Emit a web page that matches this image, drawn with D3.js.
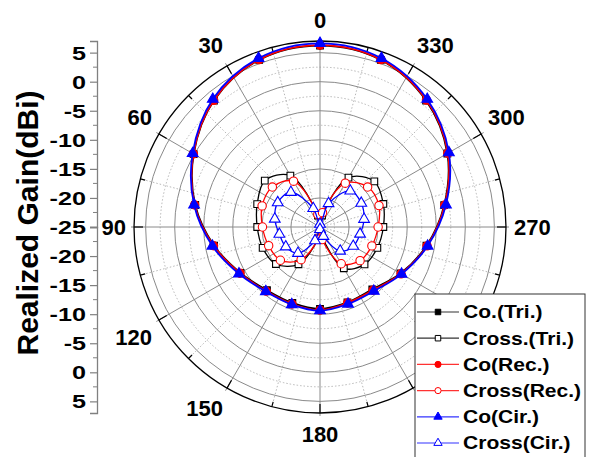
<!DOCTYPE html>
<html>
<head>
<meta charset="utf-8">
<script src="https://cdn.jsdelivr.net/npm/d3@7"></script>
<style>
  body { margin: 0; background: #fff; }
  text { font-family: "Liberation Sans", Arial, sans-serif; font-weight: bold; fill: #000; }
</style>
</head>
<body>
<svg id="chart" width="590" height="457"></svg>
<script>
// angles in degrees, counter-clockwise from the top
const coAngles = [0, 20, 40, 60, 80, 100, 120, 140, 160, 180, 200, 220, 240, 260, 280, 300, 320, 340];
const crossAngles = [0, 10, 30, 50, 70, 90, 110, 130, 150, 170, 180, 190, 210, 230, 250, 270, 290, 310, 330, 350];

// realized gain, dBi
const coTri = [6.2, 5.6, 3.4, 0.1, -3.2, -6.5, -9.2, -10.8, -11.1, -10.9, -11.2, -11.0, -9.0, -6.4, -3.3, 0.3, 3.4, 5.6];
const coRec = [6.3, 5.65, 3.45, 0.15, -3.1, -6.4, -9.1, -10.6, -10.9, -10.7, -11.1, -10.8, -8.9, -6.3, -3.2, 0.4, 3.5, 5.65];
const coCir = [6.6, 5.9, 3.7, 0.3, -3.0, -6.2, -8.9, -10.5, -10.8, -10.6, -10.9, -10.6, -8.8, -6.2, -3.0, 0.6, 3.7, 5.9];
const crossTri = [-25, -23, -14.8, -12.6, -13.5, -14.2, -14.5, -15.1, -17.6, -23, -25, -23.6, -16.8, -15.0, -14.5, -14.1, -13.4, -12.8, -15.2, -23];
const crossRec = [-25, -22.8, -15.9, -14.3, -14.4, -15.1, -15.6, -16.1, -18.5, -22.9, -25, -22.8, -17.7, -16.0, -15.5, -15.0, -14.2, -14.3, -16.3, -22.5];
const crossCir = [-24.5, -21.6, -17.2, -16.6, -17.1, -17.9, -18.2, -19.1, -22.5, -24.6, -23.3, -19.6, -18.4, -18.0, -17.3, -16.8, -16.9, -20.7];

const angleLabels = [0, 30, 60, 90, 120, 150, 180, 270, 300, 330];
const radialTicks = [-25, -20, -15, -10, -5, 0, 5];
const legendNames = ["Co.(Tri.)", "Cross.(Tri.)", "Co(Rec.)", "Cross(Rec.)", "Co(Cir.)", "Cross(Cir.)"];

const svg = d3.select("#chart");
const cx = 320, cy = 227, R = 186;

const r = d3.scaleLinear().domain([-25, 7]).range([0, R]).clamp(true);
const rad = a => -a * Math.PI / 180;
const px = (a, rr) => cx + rr * Math.sin(rad(a));
const py = (a, rr) => cy - rr * Math.cos(rad(a));

const plot = svg.append("g");

// dotted grid circles
d3.range(-22.5, 6, 5).forEach(v => {
  plot.append("circle").attr("cx", cx).attr("cy", cy).attr("r", r(v))
    .attr("fill", "none").attr("stroke", "#b8b8b8").attr("stroke-width", 1)
    .attr("stroke-dasharray", "1.5,2");
});
// dotted spokes
d3.range(15, 360, 30).forEach(a => {
  plot.append("line").attr("x1", cx).attr("y1", cy).attr("x2", px(a, R)).attr("y2", py(a, R))
    .attr("stroke", "#b8b8b8").attr("stroke-dasharray", "1.5,2");
});
// solid grid circles
radialTicks.slice(1).forEach(v => {
  plot.append("circle").attr("cx", cx).attr("cy", cy).attr("r", r(v))
    .attr("fill", "none").attr("stroke", "#8a8a8a").attr("stroke-width", 1);
});
// solid spokes
d3.range(0, 360, 30).forEach(a => {
  plot.append("line").attr("x1", cx).attr("y1", cy).attr("x2", px(a, R + 3)).attr("y2", py(a, R + 3))
    .attr("stroke", "#8a8a8a").attr("stroke-width", 1);
});
// outer circle and its ticks
plot.append("circle").attr("cx", cx).attr("cy", cy).attr("r", R)
  .attr("fill", "none").attr("stroke", "#000").attr("stroke-width", 1.3);
d3.range(0, 360, 15).forEach(a => {
  const len = a % 30 === 0 ? 9 : 5;
  plot.append("line").attr("x1", px(a, R - len)).attr("y1", py(a, R - len))
    .attr("x2", px(a, R)).attr("y2", py(a, R))
    .attr("stroke", "#000").attr("stroke-width", 1.2);
});

// angular labels, placed outside the ring like Origin does
plot.selectAll(".alab").data(angleLabels).join("text")
  .attr("class", "alab")
  .attr("x", a => px(a, 194))
  .attr("y", a => {
    const c = Math.cos(rad(a));
    return py(a, 194) + (c > 0.1 ? -13 : c < -0.1 ? 13 : 0);
  })
  .attr("text-anchor", a => {
    const s = Math.sin(rad(a));
    return s > 0.1 ? "start" : s < -0.1 ? "end" : "middle";
  })
  .attr("dominant-baseline", "central")
  .style("font-size", "22px")
  .text(a => a);

// left radial axis (two halves)
const yTop = d3.scaleLinear().domain([-25, 7]).range([cy, cy - R]);
const yBot = d3.scaleLinear().domain([-25, 7]).range([cy, cy + R]);
const axisX = 97;
const sx = 1.4;
function drawAxis(scale, values, minors) {
  const g = svg.append("g").attr("transform", `translate(${axisX},0)`);
  g.call(d3.axisLeft(scale).tickValues(values).tickSize(7).tickPadding(4).tickFormat(d => String(d)));
  g.selectAll(".minor").data(minors).join("line").attr("class", "minor")
    .attr("x1", -4).attr("x2", 0).attr("y1", d => scale(d)).attr("y2", d => scale(d))
    .attr("stroke", "#808080");
  g.select(".domain").attr("stroke", "#808080").attr("stroke-width", 1.3);
  g.selectAll(".tick line").attr("stroke", "#808080").attr("stroke-width", 1.2);
  g.selectAll(".tick text").style("font-size", "18px").style("font-family", "'Liberation Sans', Arial, sans-serif")
    .style("font-weight", "bold").attr("fill", "#000").attr("dy", "0.36em")
    .attr("x", -11 / sx).attr("transform", `scale(${sx},1)`);
  return g;
}
drawAxis(yTop, radialTicks, [-22.5, -17.5, -12.5, -7.5, -2.5, 2.5]);
drawAxis(yBot, radialTicks.slice(1), [-22.5, -17.5, -12.5, -7.5, -2.5, 2.5]);

svg.append("text")
  .attr("transform", `translate(38,${cy - 4}) rotate(-90)`)
  .attr("text-anchor", "middle")
  .style("font-size", "30px")
  .text("Realized Gain(dBi)");

// series
const series = [
  { name: legendNames[0], angles: coAngles, values: coTri, color: "#000", lw: 1.8, sym: d3.symbolSquare, fill: true, size: 45, mark: a => true },
  { name: legendNames[1], angles: crossAngles, values: crossTri, color: "#000", lw: 1.3, sym: d3.symbolSquare, fill: false, size: 45, mark: a => a % 20 === 10 },
  { name: legendNames[2], angles: coAngles, values: coRec, color: "#ff0000", lw: 1.8, sym: d3.symbolCircle, fill: true, size: 55, mark: a => true },
  { name: legendNames[3], angles: crossAngles, values: crossRec, color: "#ff0000", lw: 1.3, sym: d3.symbolCircle, fill: false, size: 55, mark: a => a % 20 === 10 },
  { name: legendNames[4], angles: coAngles, values: coCir, color: "#0000ff", lw: 1.8, sym: d3.symbolTriangle, fill: true, size: 50, mark: a => true },
  { name: legendNames[5], angles: coAngles, values: crossCir, color: "#0000ff", lw: 1.3, sym: d3.symbolTriangle, fill: false, size: 50, mark: a => true }
];

const line = d3.lineRadial()
  .angle(d => rad(d.a))
  .radius(d => r(d.v))
  .curve(d3.curveCatmullRomClosed.alpha(0.5));

series.forEach(s => {
  const pts = s.angles.map((a, i) => ({ a: a, v: s.values[i] }));
  const g = plot.append("g");
  g.append("path").datum(pts)
    .attr("transform", `translate(${cx},${cy})`)
    .attr("d", line)
    .attr("fill", "none").attr("stroke", s.color).attr("stroke-width", s.lw);
  g.selectAll("path.m").data(pts.filter(p => s.mark(p.a))).join("path").attr("class", "m")
    .attr("transform", p => `translate(${px(p.a, r(p.v))},${py(p.a, r(p.v))})`)
    .attr("d", d3.symbol().type(s.sym).size(s.size))
    .attr("fill", s.fill ? s.color : "#fff")
    .attr("stroke", s.color).attr("stroke-width", 1.1);
});

// legend
const lsx = 1.17;
const lg = svg.append("g").attr("transform", "translate(415,294)");
lg.append("rect").attr("x", 0).attr("y", 0).attr("width", 170).attr("height", 175)
  .attr("fill", "#fff").attr("stroke", "#333").attr("stroke-width", 1);
series.forEach((s, i) => {
  const y = 18 + i * 26.2;
  lg.append("line").attr("x1", 2).attr("x2", 44).attr("y1", y).attr("y2", y)
    .attr("stroke", s.color).attr("stroke-width", 1.2).attr("opacity", 0.8);
  lg.append("path").attr("transform", `translate(23,${y})`)
    .attr("d", d3.symbol().type(s.sym).size(30))
    .attr("fill", s.fill ? s.color : "#fff").attr("stroke", s.color).attr("stroke-width", 1);
  lg.append("text").attr("x", 48 / lsx).attr("y", y).attr("dy", "0.36em")
    .attr("transform", `scale(${lsx},1)`)
    .style("font-size", "18px").text(s.name);
});
</script>
</body>
</html>
